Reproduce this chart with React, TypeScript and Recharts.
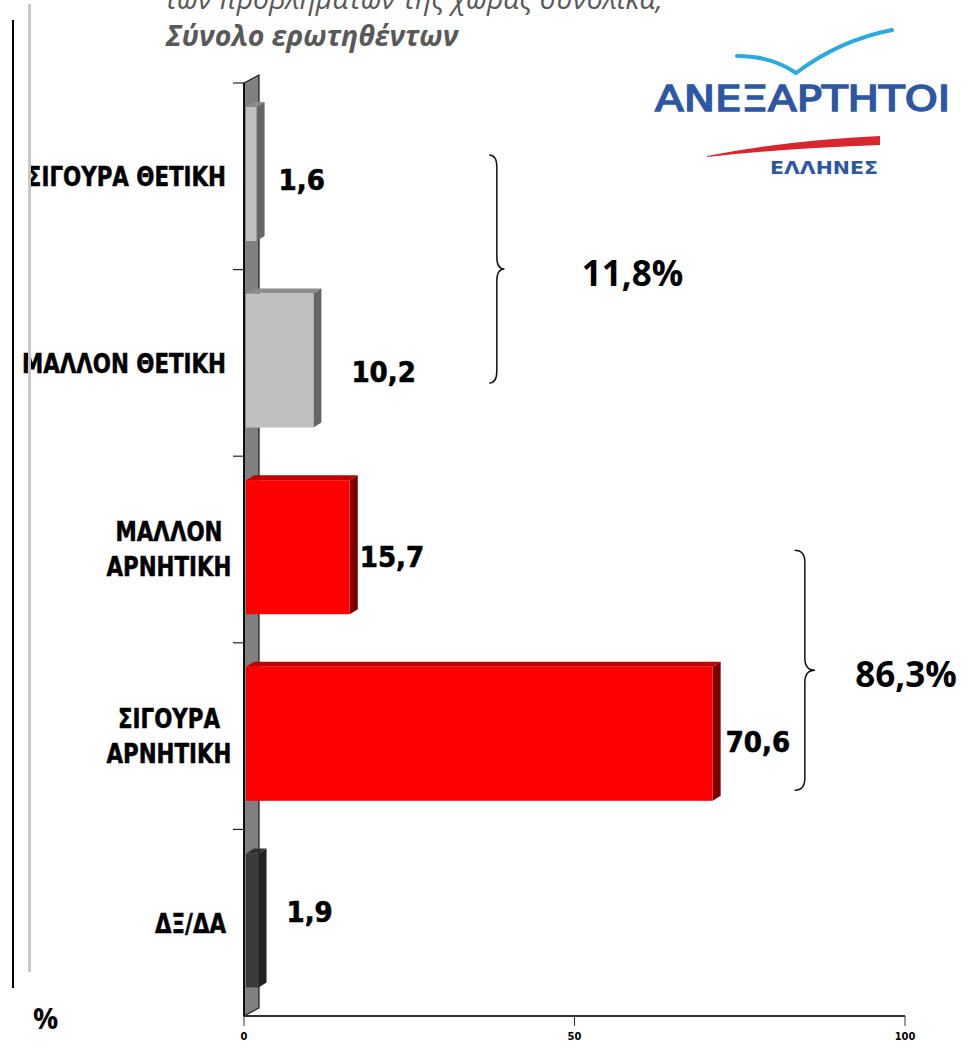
import React from "react";
import { Bar, BarChart, Cell, LabelList, ReferenceArea, XAxis, YAxis } from "recharts";

const categories = ["ΣΙΓΟΥΡΑ ΘΕΤΙΚΗ", "ΜΑΛΛΟΝ ΘΕΤΙΚΗ", "ΜΑΛΛΟΝ\nΑΡΝΗΤΙΚΗ", "ΣΙΓΟΥΡΑ\nΑΡΝΗΤΙΚΗ", "ΔΞ/ΔΑ"];
const values = [1.6, 10.2, 15.7, 70.6, 1.9];
const xTicks = [0, 50, 100];
const positiveTotal = "11,8%";
const negativeTotal = "86,3%";

const data = categories.map((name, i) => ({ name, value: values[i] }));

// styling
const barColors = ["#C0C0C0", "#C0C0C0", "#FF0000", "#FF0000", "#3A3A3A"];
const shades: Record<string, { top: string; side: string }> = {
    "#C0C0C0": { top: "#8C8C8C", side: "#666666" },
    "#FF0000": { top: "#C00000", side: "#7A0000" },
    "#3A3A3A": { top: "#303030", side: "#222222" },
};
const labelGap = [24, 40, 12, 15, 30];
const labelDrop = [4, 9, 8, 6, -10];
const DX = 8;
const DY = 5;

const condensed = "'DejaVu Sans Condensed', 'DejaVu Sans', sans-serif";

const fmt = (v: number) => v.toFixed(1).replace(".", ",");

const Bar3D = (props: any) => {
    const { x, y, width, height, index } = props;
    const front = barColors[index] ?? "#C0C0C0";
    const s = shades[front];
    const x0 = x + 2;
    const w = Math.max(width, 0);
    const top = y - 2;
    return (
        <g>
            <polygon points={`${x0},${top} ${x0 + DX},${top - DY} ${x0 + w + DX},${top - DY} ${x0 + w},${top}`} fill={s.top} />
            <polygon points={`${x0 + w},${top} ${x0 + w + DX},${top - DY} ${x0 + w + DX},${top + height - DY} ${x0 + w},${top + height}`} fill={s.side} />
            <rect x={x0} y={top} width={w} height={height} fill={front} />
        </g>
    );
};

const ValueLabel = (props: any) => {
    const { x, y, width, height, value } = props;
    const i = props.index ?? values.indexOf(Number(value));
    return (
        <text x={x + width + labelGap[i]} y={y + height / 2 + labelDrop[i]} dominantBaseline="central"
            fontFamily={condensed} fontWeight="bold" fontSize={29} fill="#000" stroke="#000" strokeWidth={0.6}>
            {fmt(Number(value))}
        </text>
    );
};

const Wall = (props: any) => {
    const { x, y, height } = props;
    return (
        <polygon points={`${x},${y} ${x + 15},${y - 8} ${x + 15},${y + height - 8} ${x},${y + height}`}
            fill="#808080" stroke="#1a1a1a" strokeWidth={1.2} />
    );
};

const makeBrace = (text: string, insetTop: number, insetBottom: number, textDx: number) => (props: any) => {
    const { x, y, width, height } = props;
    const t = y + height * insetTop;
    const b = y + height - height * insetBottom;
    const m = (t + b) / 2;
    const c = x + width / 2;
    const r = 12;
    const d = `M${x},${t} Q${c},${t} ${c},${t + r} L${c},${m - r} Q${c},${m} ${x + width},${m} Q${c},${m} ${c},${m + r} L${c},${b - r} Q${c},${b} ${x},${b}`;
    return (
        <g>
            <path d={d} fill="none" stroke="#111" strokeWidth={1.5} />
            <text x={x + width + textDx} y={m + 3} textAnchor="middle" dominantBaseline="central"
                fontFamily="'Open Sans', sans-serif" fontWeight="bold" fontSize={35} fill="#000">
                {text}
            </text>
        </g>
    );
};

const CategoryTick = (props: any) => {
    const { x, y, payload } = props;
    const lines = String(payload.value).split("\n");
    const half = payload.offset || 93.3;
    const multi = lines.length > 1;
    const ax = multi ? x - 75 : x - 18;
    return (
        <g>
            <line x1={x - 11} x2={x} y1={y - half} y2={y - half} stroke="#222" strokeWidth={1.2} />
            <text x={ax} y={y} textAnchor={multi ? "middle" : "end"}
                transform={`translate(${ax},0) scale(0.88,1) translate(${-ax},0)`}
                fontFamily={condensed} fontWeight="bold" fontSize={27} fill="#000" stroke="#000" strokeWidth={0.5}>
                {lines.map((l, k) => (
                    <tspan key={k} x={ax} dy={k === 0 ? (multi ? -8 : 10) : 35}>{l}</tspan>
                ))}
            </text>
        </g>
    );
};

const Logo = () => (
    <g>
        <path d="M737,56 Q772,56 796,73 Q840,40 892,30" fill="none" stroke="#2BAAE0" strokeWidth={4} strokeLinecap="round" />
        <text x={655} y={111} textLength={295} lengthAdjust="spacingAndGlyphs"
            fontFamily="'DejaVu Sans', sans-serif" fontSize={36} fill="#2D57A4" stroke="#2D57A4" strokeWidth={1.6}>ΑΝΕΞΑΡΤΗΤΟΙ</text>
        <path d="M707,156 Q790,140 880,136 L880,145 Q790,148 707,157 Z" fill="#D9262E" />
        <text x={770} y={174} textLength={108} lengthAdjust="spacingAndGlyphs"
            fontFamily={condensed} fontWeight="bold" fontSize={17} fill="#2D57A4">ΕΛΛΗΝΕΣ</text>
    </g>
);

const App: React.FunctionComponent = () => {
    return (
        <div style={{ position: "absolute", left: 0, top: 0, width: 971, height: 1051, background: "#fff" }}>
            <BarChart
                width={971}
                height={1051}
                data={data}
                layout="vertical"
                margin={{ top: 83, right: 66, bottom: 0, left: 8 }}
            >
                <ReferenceArea x1={0} x2={2} shape={Wall} />
                <XAxis type="number" domain={[0, 100]} ticks={xTicks} height={35}
                    tick={{ fontSize: 11, fontWeight: "bold", fill: "#000", fontFamily: condensed }}
                    tickSize={10} tickMargin={6}
                    axisLine={{ stroke: "#333", strokeWidth: 2 }} tickLine={{ stroke: "#333" }} />
                <YAxis type="category" dataKey="name" width={236} tickSize={0} tickMargin={0}
                    tick={<CategoryTick />} axisLine={{ stroke: "#111", strokeWidth: 2 }} tickLine={false} />
                <Bar dataKey="value" barSize={134} shape={Bar3D} isAnimationActive={false}>
                    {data.map((_, i) => <Cell key={i} fill={barColors[i]} />)}
                    <LabelList dataKey="value" content={<ValueLabel />} />
                </Bar>
                <ReferenceArea x1={37.1} x2={39.4} y1={categories[0]} y2={categories[1]} shape={makeBrace(positiveTotal, 0.193, 0.196, 128)} />
                <ReferenceArea x1={83.3} x2={86.4} y1={categories[2]} y2={categories[3]} shape={makeBrace(negativeTotal, 0.252, 0.105, 91)} />
            </BarChart>
            <svg width={971} height={1051} style={{ position: "absolute", left: 0, top: 0, pointerEvents: "none" }}>
                <rect x={12} y={20} width={2} height={968} fill="#000" />
                <rect x={28} y={4} width={3} height={968} fill="#C8C8C8" />
                <text x={165} y={9} fontFamily="'Open Sans', sans-serif" fontStyle="italic" fontSize={28.5} fill="#595959">
                    των προβλημάτων της χώρας συνολικά,
                </text>
                <text x={166} y={46} fontFamily="'Open Sans', sans-serif" fontStyle="italic" fontWeight="bold" fontSize={28.5} fill="#595959">
                    Σύνολο ερωτηθέντων
                </text>
                <text x={33} y={1029} fontFamily="'Open Sans', sans-serif" fontWeight="bold" fontSize={28} fill="#000">%</text>
                <Logo />
            </svg>
        </div>
    );
};

export default App;
